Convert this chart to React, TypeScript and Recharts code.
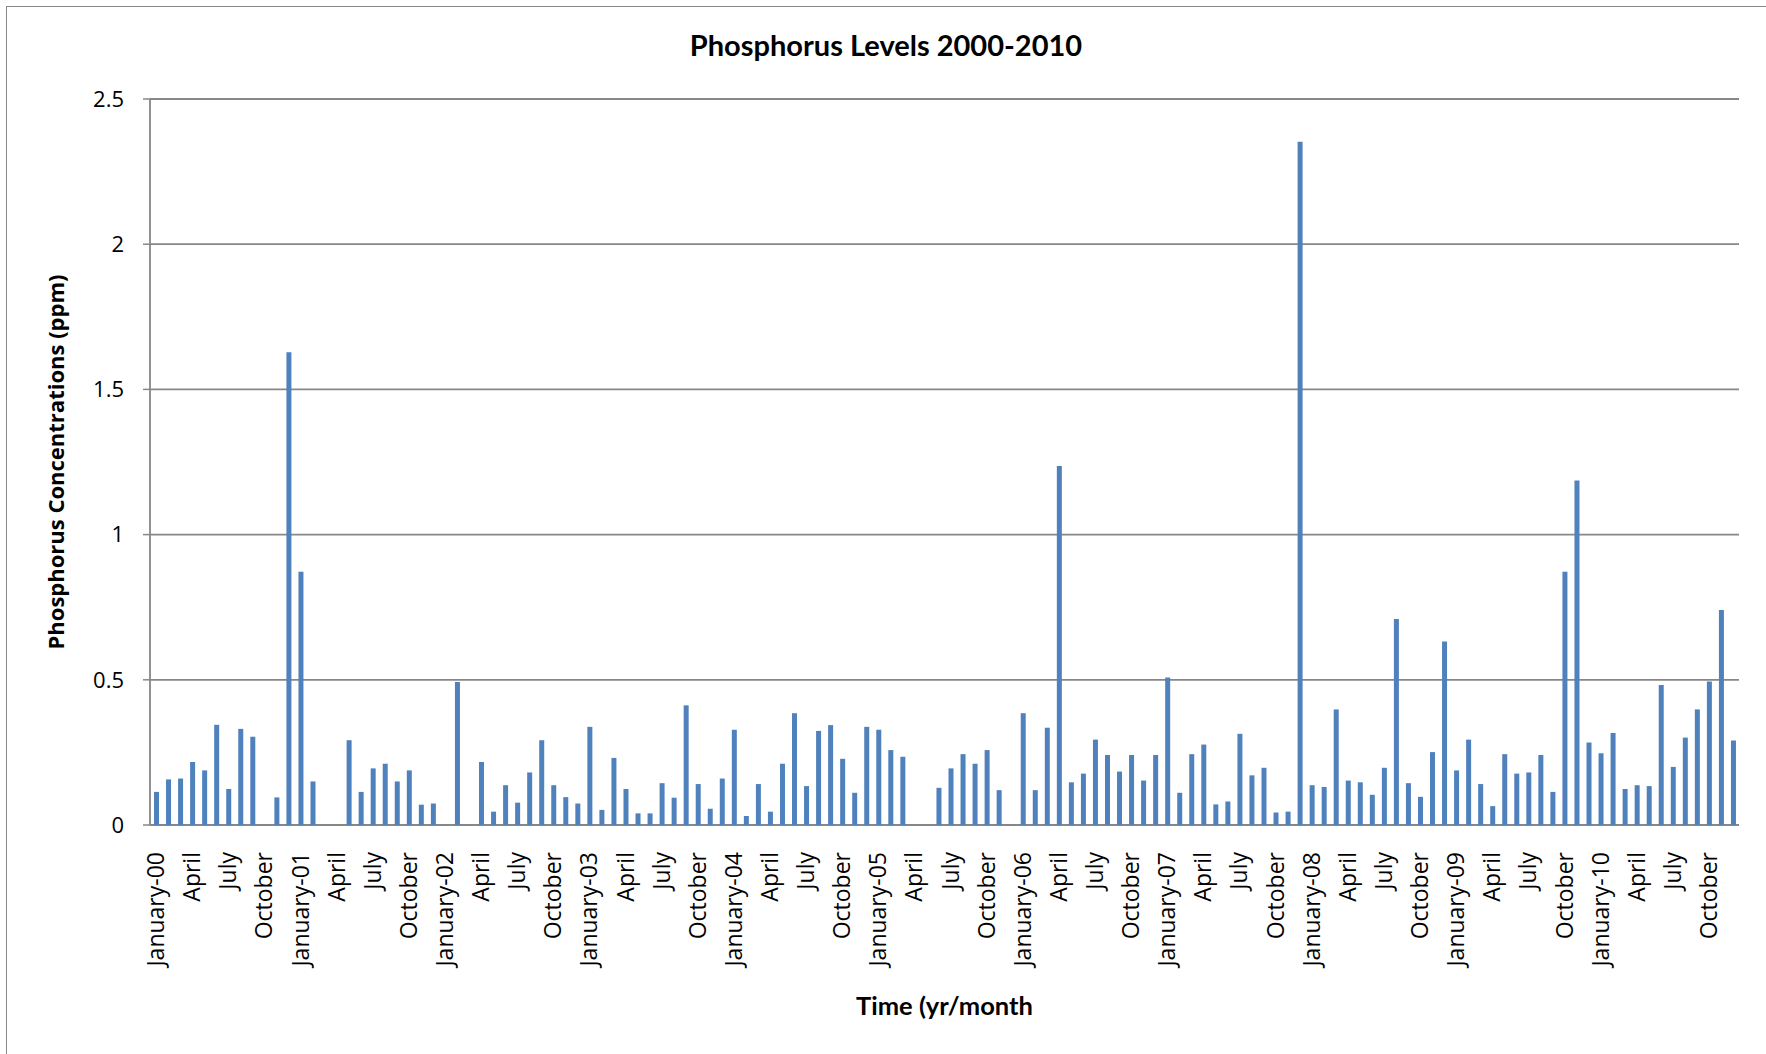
import { BarChart, Bar, XAxis, YAxis, CartesianGrid, Label } from "recharts";

const MONTHS = [
  "January", "February", "March", "April", "May", "June",
  "July", "August", "September", "October", "November", "December",
];
const YEARS = ["00", "01", "02", "03", "04", "05", "06", "07", "08", "09", "10"];

// monthly phosphorus readings (ppm), null = no sample that month
const p2000 = [0.114, 0.157, 0.16, 0.217, 0.188, 0.345, 0.124, 0.331, 0.304, null, 0.095, 1.628];
const p2001 = [0.872, 0.15, null, null, 0.292, 0.114, 0.195, 0.211, 0.15, 0.188, 0.07, 0.074];
const p2002 = [null, 0.492, null, 0.217, 0.046, 0.137, 0.077, 0.181, 0.292, 0.137, 0.096, 0.074];
const p2003 = [0.338, 0.052, 0.231, 0.124, 0.04, 0.04, 0.144, 0.094, 0.412, 0.141, 0.056, 0.16];
const p2004 = [0.328, 0.031, 0.141, 0.046, 0.211, 0.385, 0.134, 0.324, 0.344, 0.228, 0.111, 0.338];
const p2005 = [0.328, 0.258, 0.235, null, null, 0.128, 0.195, 0.244, 0.211, 0.258, 0.12, null];
const p2006 = [0.385, 0.12, 0.335, 1.236, 0.147, 0.177, 0.294, 0.241, 0.184, 0.241, 0.153, 0.241];
const p2007 = [0.508, 0.111, 0.244, 0.277, 0.071, 0.081, 0.314, 0.171, 0.197, 0.043, 0.046, 2.353];
const p2008 = [0.137, 0.131, 0.398, 0.153, 0.147, 0.104, 0.197, 0.709, 0.144, 0.097, 0.251, 0.632];
const p2009 = [0.188, 0.294, 0.141, 0.065, 0.244, 0.177, 0.181, 0.241, 0.114, 0.872, 1.186, 0.284];
const p2010 = [0.247, 0.317, 0.124, 0.137, 0.134, 0.482, 0.2, 0.301, 0.398, 0.494, 0.74, 0.291];

const SERIES = [p2000, p2001, p2002, p2003, p2004, p2005, p2006, p2007, p2008, p2009, p2010];
const Y_TICKS = [0, 0.5, 1, 1.5, 2, 2.5];

const rows = YEARS.flatMap((yy, yi) =>
  MONTHS.map((m, mi) => ({ month: `${m}-${yy}`, ppm: SERIES[yi][mi] }))
);
// category boundaries for the little tick marks under the axis
const EDGES = rows.map((_, i) => i).concat(rows.length);

const GRID = "#878787";
const TICK_FONT = "'Open Sans', sans-serif";
const TITLE_FONT = "Lato, sans-serif";

function MonthTick({ x, y, payload }: any) {
  const key: string = payload.value;
  const name = key.split("-")[0];
  const mi = MONTHS.indexOf(name);
  if (mi % 3 !== 0) return <g />;
  const text = mi === 0 ? key : name;
  return (
    <g transform={`translate(${x},${y})`}>
      <text
        transform="rotate(-90)"
        x={-27}
        dy="0.35em"
        textAnchor="end"
        fontSize={23}
        fontFamily={TICK_FONT}
        fill="#000"
      >
        {text}
      </text>
    </g>
  );
}

export default function App() {
  return (
    <div style={{ position: "absolute", left: 0, top: 0, width: 1766, height: 1054, background: "#fff", overflow: "hidden" }}>
      <div
        style={{
          position: "absolute",
          left: 6,
          top: 6,
          width: 1760,
          height: 1048,
          borderTop: `1.5px solid ${GRID}`,
          borderLeft: `1.5px solid ${GRID}`,
        }}
      />
      <div
        style={{
          position: "absolute",
          left: 0,
          top: 28,
          width: 1772,
          lineHeight: "34px",
          textAlign: "center",
          fontFamily: TITLE_FONT,
          fontWeight: 700,
          fontSize: 29,
          color: "#000",
        }}
      >
        Phosphorus Levels 2000-2010
      </div>
      <div style={{ position: "absolute", left: 0, top: 0 }}>
        <BarChart width={1766} height={1054} data={rows} margin={{ top: 99, right: 27, left: -38, bottom: -133 }}>
          <CartesianGrid xAxisId="cat" vertical={false} stroke={GRID} strokeWidth={1.8} />
          <XAxis
            xAxisId="edge"
            type="number"
            domain={[0, rows.length]}
            ticks={EDGES}
            interval={0}
            height={0}
            tick={() => <g />}
            tickSize={8}
            tickLine={{ stroke: GRID, strokeWidth: 1.5 }}
            axisLine={{ stroke: GRID, strokeWidth: 1.8 }}
          />
          <XAxis
            xAxisId="cat"
            dataKey="month"
            interval={0}
            height={362}
            tickSize={0}
            tickMargin={0}
            tickLine={false}
            axisLine={false}
            tick={<MonthTick />}
          >
            <Label
              value="Time (yr/month"
              position="center"
              fontFamily={TITLE_FONT}
              fontWeight={700}
              fontSize={25.5}
              fill="#000"
            />
          </XAxis>
          <YAxis
            width={188}
            domain={[0, 2.5]}
            ticks={Y_TICKS}
            interval={0}
            tickSize={7}
            tickMargin={19}
            tickLine={{ stroke: GRID, strokeWidth: 1.5 }}
            axisLine={{ stroke: GRID, strokeWidth: 1.8 }}
            tick={{ fill: "#000", fontSize: 22, fontFamily: TICK_FONT }}
          >
            <Label
              value="Phosphorus Concentrations (ppm)"
              position="center"
              angle={-90}
              fontFamily={TICK_FONT}
              fontWeight={700}
              fontSize={22}
              fill="#000"
            />
          </YAxis>
          <Bar xAxisId="cat" dataKey="ppm" fill="#4F81BD" barSize={5} isAnimationActive={false} />
        </BarChart>
      </div>
    </div>
  );
}
